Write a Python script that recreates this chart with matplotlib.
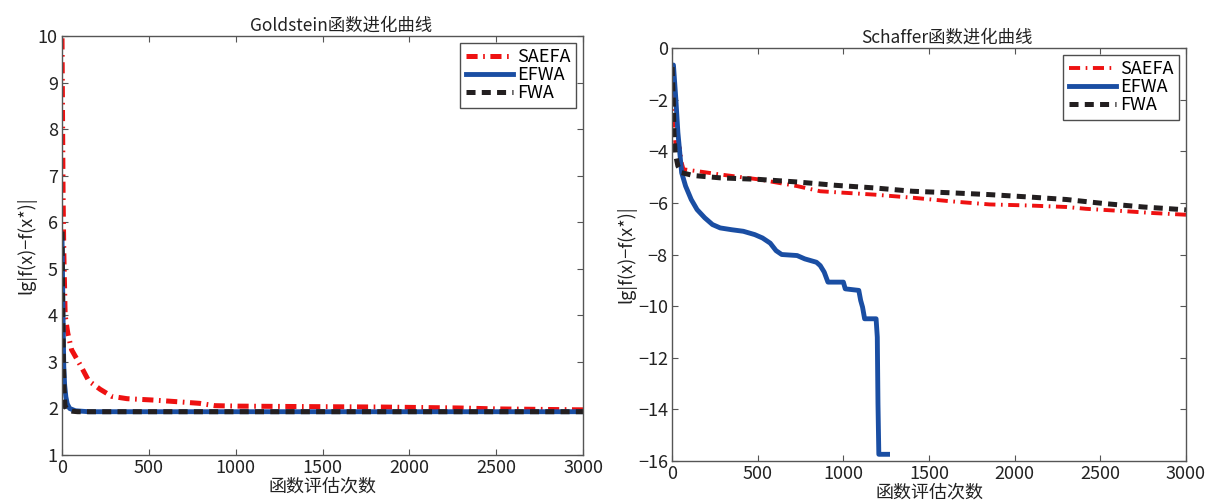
import numpy as np
import matplotlib
matplotlib.use("Agg")
import matplotlib.pyplot as plt

plt.rcParams['font.family'] = ['Noto Sans CJK SC', 'DejaVu Sans']
plt.rcParams['lines.scale_dashes'] = False
plt.rcParams['axes.unicode_minus'] = True

# Goldstein
g_saefa_x = [0, 3, 6, 10, 18, 33, 55, 110, 154, 220, 286, 374, 527, 681, 791, 879, 1011, 1407, 1846, 2286, 2505, 3000]
g_saefa_y = [9.95, 8.2, 6.6, 5.4, 4.0, 3.62, 3.26, 2.9, 2.59, 2.41, 2.26, 2.21, 2.18, 2.14, 2.11, 2.06, 2.05, 2.04, 2.03, 2.01, 1.99, 1.97]
g_efwa_x = [0, 3, 6, 10, 15, 22, 30, 44, 77, 154, 3000]
g_efwa_y = [5.62, 4.8, 3.9, 2.9, 2.5, 2.25, 2.1, 2.0, 1.95, 1.93, 1.93]
g_fwa_x = [0, 4, 8, 12, 17, 30, 60, 90, 3000]
g_fwa_y = [5.8, 4.0, 3.0, 2.4, 2.05, 1.98, 1.94, 1.93, 1.93]

# Schaffer
s_saefa_x = [0, 7, 11, 20, 45, 56, 67, 146, 281, 506, 730, 865, 1180, 1404, 1629, 1854, 2079, 2303, 2416, 2640, 2798, 3000]
s_saefa_y = [-0.8, -2.0, -3.2, -3.7, -3.86, -4.44, -4.7, -4.77, -4.9, -5.09, -5.35, -5.55, -5.68, -5.8, -5.94, -6.06, -6.1, -6.16, -6.23, -6.32, -6.39, -6.46]
s_efwa_x = [0, 8, 22, 34, 45, 56, 79, 112, 146, 191, 236, 281, 348, 416, 483, 528, 573, 607, 640, 730, 775, 843,
            865, 888, 910, 1000, 1011, 1090, 1101, 1112, 1124, 1191, 1198, 1202, 1207, 1258]
s_efwa_y = [-0.75, -0.66, -1.97, -3.27, -4.05, -4.83, -5.35, -5.87, -6.26, -6.58, -6.84, -6.97, -7.04, -7.1, -7.23, -7.36, -7.56, -7.85, -8.0, -8.04, -8.17, -8.3,
            -8.43, -8.68, -9.07, -9.07, -9.33, -9.39, -9.78, -10.04, -10.49, -10.49, -11.2, -13.78, -15.74, -15.74]
s_fwa_x = [0, 7, 11, 18, 34, 56, 124, 281, 506, 730, 955, 1180, 1404, 1629, 1854, 2079, 2303, 2528, 2753, 3000]
s_fwa_y = [-0.74, -1.97, -3.27, -4.05, -4.57, -4.83, -4.94, -5.03, -5.09, -5.19, -5.32, -5.42, -5.55, -5.61, -5.68, -5.77, -5.87, -6.03, -6.16, -6.27]

labels = ['SAEFA', 'EFWA', 'FWA']
red = '#ee1111'
blue = '#1a4ea3'
black = '#231f20'

fig = plt.figure(figsize=(12.07, 5.01), dpi=100)
ax1 = fig.add_axes([0.0514, 0.0918, 0.4317, 0.8363])
ax2 = fig.add_axes([0.5568, 0.0798, 0.4258, 0.8244])


def draw(ax, data, title, ylim, yticks, red_lw):
    (sx, sy), (ex, ey), (fx, fy) = data
    l1, = ax.plot(sx, sy, color=red, lw=red_lw, label=labels[0])
    l1.set_dashes((8, 4, 1.2, 4))
    ax.plot(ex, ey, color=blue, lw=3.5, label=labels[1])
    l3, = ax.plot(fx, fy, color=black, lw=3.6, label=labels[2])
    l3.set_dashes((6.5, 4.5))
    ax.set_xlim(0, 3000)
    ax.set_ylim(*ylim)
    ax.set_xticks(np.arange(0, 3001, 500))
    ax.set_yticks(yticks)
    ax.tick_params(direction='in', top=True, right=True, length=4, labelsize=13, colors='#222222', pad=3)
    ax.tick_params(axis='both', color='#555555')
    for sp in ax.spines.values():
        sp.set_color('#555555')
        sp.set_linewidth(1.0)
    ax.set_title(title, fontsize=12.5, color='#222222', x=0.535, pad=4)
    ax.set_xlabel('函数评估次数', fontsize=13, color='#222222', labelpad=0.5)
    ax.set_ylabel('lg|f(x)−f(x*)|', fontsize=13, color='#222222', labelpad=1)
    leg = ax.legend(loc='upper right', fontsize=13, frameon=True, fancybox=False, handlelength=2.6,
                    handletextpad=0.25, labelspacing=0.0, borderpad=0.3, borderaxespad=0.38)
    leg.get_frame().set_edgecolor('#222222')
    leg.get_frame().set_linewidth(1.0)


draw(ax1, [(g_saefa_x, g_saefa_y), (g_efwa_x, g_efwa_y), (g_fwa_x, g_fwa_y)],
     'Goldstein函数进化曲线', (1, 10), np.arange(1, 11, 1), 3.6)
draw(ax2, [(s_saefa_x, s_saefa_y), (s_efwa_x, s_efwa_y), (s_fwa_x, s_fwa_y)],
     'Schaffer函数进化曲线', (-16, 0), np.arange(-16, 1, 2), 2.8)

fig.savefig('out.png', dpi=100)
